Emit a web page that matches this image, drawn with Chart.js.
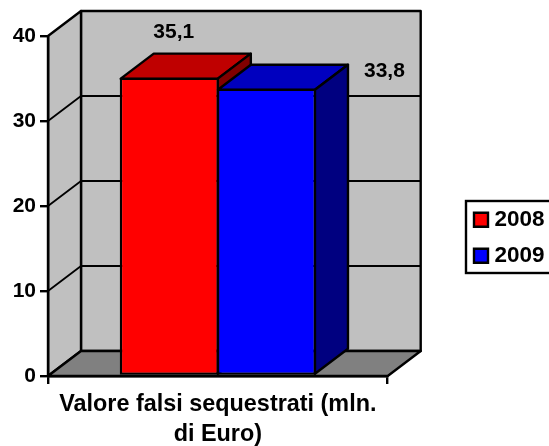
<!DOCTYPE html>
<html>
<head>
<meta charset="utf-8">
<style>
    html, body { margin: 0; padding: 0; background: #fff; overflow: hidden; }
    canvas { display: block; }
</style>
<script src="https://cdn.jsdelivr.net/npm/chart.js@4"></script>
</head>
<body>
<canvas id="chart" width="549" height="446"></canvas>
<script>
const categories = [['Valore falsi sequestrati (mln.', 'di Euro)']];
const seriesNames = ['2008', '2009'];
const values2008 = [35.1];
const values2009 = [33.8];
const yMax = 40;
const yStep = 10;

const FONT = 'Liberation Sans, Arial, sans-serif';
const DEPTH_X = 33;
const DEPTH_Y = 25;
// label offset from the top of each bar, the original places them by hand
const LABEL_OFFSETS = [{ x: 4.5, y: -45.5 }, { x: 118, y: -17.5 }];

function poly(ctx, pts, fill) {
    ctx.beginPath();
    pts.forEach((p, i) => i ? ctx.lineTo(p[0], p[1]) : ctx.moveTo(p[0], p[1]));
    ctx.closePath();
    if (fill) { ctx.fillStyle = fill; ctx.fill(); }
    ctx.stroke();
}

const box3d = {
    id: 'box3d',
    afterLayout(chart) {
        // legend sits lower and further right than Chart.js would put it
        const legend = chart.legend;
        legend.left = 460.5;
        legend.right = 544.5;
        legend.top = 195;
        legend.bottom = 290;
    },
    beforeDatasetsDraw(chart) {
        const { ctx, scales: { x, y } } = chart;
        const l = x.left, r = x.right, b = y.getPixelForValue(0), t = y.getPixelForValue(yMax);
        ctx.save();
        ctx.strokeStyle = '#000';
        ctx.lineJoin = 'round';
        ctx.lineWidth = 2.4;
        // walls and floor
        poly(ctx, [[l + DEPTH_X, t - DEPTH_Y], [r + DEPTH_X, t - DEPTH_Y], [r + DEPTH_X, b - DEPTH_Y], [l + DEPTH_X, b - DEPTH_Y]], '#c0c0c0');
        poly(ctx, [[l, t], [l + DEPTH_X, t - DEPTH_Y], [l + DEPTH_X, b - DEPTH_Y], [l, b]], '#c0c0c0');
        poly(ctx, [[l, b], [l + DEPTH_X, b - DEPTH_Y], [r + DEPTH_X, b - DEPTH_Y], [r, b]], '#808080');
        // gridlines
        ctx.lineWidth = 1.8;
        y.ticks.forEach(tick => {
            if (tick.value === 0 || tick.value === yMax) return;
            const py = y.getPixelForValue(tick.value);
            ctx.beginPath();
            ctx.moveTo(l, py);
            ctx.lineTo(l + DEPTH_X, py - DEPTH_Y);
            ctx.lineTo(r + DEPTH_X, py - DEPTH_Y);
            ctx.stroke();
        });
        // bar tops and sides, red first so blue covers it
        ctx.lineWidth = 2.4;
        const shades = [['#bf0000', '#800000'], ['#0000bf', '#000080']];
        chart.data.datasets.forEach((ds, i) => {
            const bar = chart.getDatasetMeta(i).data[0];
            const bl = bar.x - bar.width / 2 + 1, br = bar.x + bar.width / 2 - 1;
            const bt = bar.y + 1, bb = bar.base - 1;
            poly(ctx, [[bl, bt], [bl + DEPTH_X, bt - DEPTH_Y], [br + DEPTH_X, bt - DEPTH_Y], [br, bt]], shades[i][0]);
            poly(ctx, [[br, bt], [br + DEPTH_X, bt - DEPTH_Y], [br + DEPTH_X, bb - DEPTH_Y], [br, bb]], shades[i][1]);
        });
        ctx.restore();
    },
    afterDraw(chart) {
        const { ctx } = chart;
        ctx.save();
        // value labels
        ctx.fillStyle = '#000';
        ctx.font = 'bold 21px ' + FONT;
        ctx.textAlign = 'center';
        ctx.textBaseline = 'middle';
        chart.data.datasets.forEach((ds, i) => {
            const bar = chart.getDatasetMeta(i).data[0];
            ctx.fillText(ds.data[0].toFixed(1).replace('.', ','), bar.x + LABEL_OFFSETS[i].x, bar.y + LABEL_OFFSETS[i].y);
        });
        // legend frame, runs off the right edge of the picture
        ctx.strokeStyle = '#000';
        ctx.lineWidth = 2.4;
        ctx.strokeRect(466, 201, 100, 72);
        ctx.restore();
    }
};

new Chart(document.getElementById('chart'), {
    type: 'bar',
    data: {
        labels: categories,
        datasets: [
            { label: seriesNames[0], data: values2008, backgroundColor: '#ff0000', borderColor: '#000', borderWidth: 2.4, borderSkipped: false },
            { label: seriesNames[1], data: values2009, backgroundColor: '#0000ff', borderColor: '#000', borderWidth: 2.4, borderSkipped: false }
        ]
    },
    options: {
        responsive: false,
        animation: false,
        categoryPercentage: 0.572,
        barPercentage: 1.02,
        layout: { padding: { top: 36, left: 0, right: 62.5, bottom: 0 } },
        plugins: {
            tooltip: { enabled: false },
            legend: {
                position: 'right',
                align: 'start',
                labels: {
                    boxWidth: 14,
                    boxHeight: 14,
                    padding: 13.5,
                    textAlign: 'right',
                    color: '#000',
                    font: { family: FONT, size: 22.5, weight: 'bold' }
                }
            }
        },
        scales: {
            x: {
                afterFit: s => { s.height = 70; },
                border: { color: '#000', width: 2.4, z: 1 },
                grid: { drawOnChartArea: false, color: '#000', lineWidth: 2.4, tickLength: 8 },
                ticks: {
                    color: '#000',
                    maxRotation: 0,
                    autoSkip: false,
                    padding: 5,
                    font: { family: FONT, size: 23.4, weight: 'bold', lineHeight: 1.31 }
                }
            },
            y: {
                min: 0,
                max: yMax,
                afterFit: s => { s.width = 48; },
                border: { color: '#000', width: 2.4, z: 1 },
                grid: { drawOnChartArea: false, color: '#000', lineWidth: 2.4, tickLength: 8 },
                ticks: {
                    stepSize: yStep,
                    color: '#000',
                    padding: 4,
                    font: { family: FONT, size: 21, weight: 'bold' }
                }
            }
        }
    },
    plugins: [box3d]
});
</script>
</body>
</html>
